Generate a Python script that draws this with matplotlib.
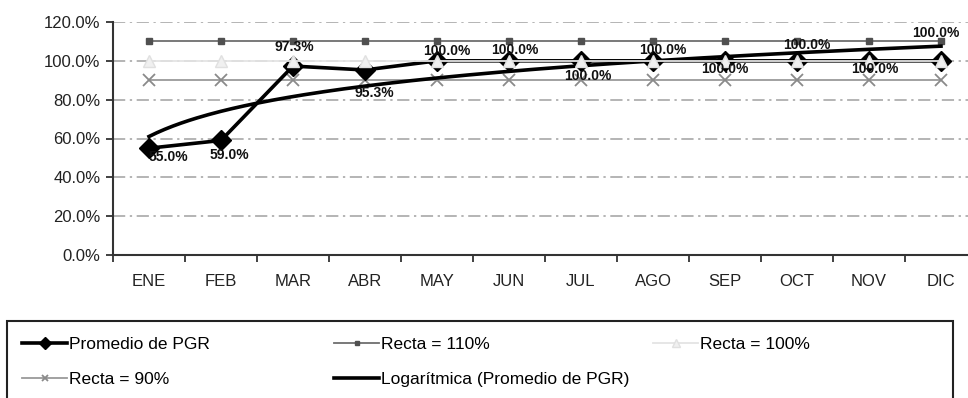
import numpy as np
import matplotlib.pyplot as plt
from matplotlib.patches import Rectangle
from matplotlib.ticker import FuncFormatter

plt.rcParams['font.family'] = ['Liberation Sans', 'DejaVu Sans']

months = ["ENE", "FEB", "MAR", "ABR", "MAY", "JUN", "JUL", "AGO", "SEP", "OCT", "NOV", "DIC"]
promedio = [55.0, 59.0, 97.3, 95.3, 100.0, 100.0, 100.0, 100.0, 100.0, 100.0, 100.0, 100.0]
recta_110 = [110.0] * 12
recta_100 = [100.0] * 12
recta_90 = [90.0] * 12
y_ticks = [0, 20, 40, 60, 80, 100, 120]

# data label offsets from each point, in pixels (x right, y up)
label_offsets = [(19, -9), (8, -15), (1, 19), (9, -23), (10, 10), (6, 11),
                 (7, -15), (10, 11), (0, -8), (10, 16), (6, -8), (-5, 28)]

x = np.arange(len(months))

# logarithmic trend line fitted like the spreadsheet does: y = a*ln(x) + b
a, b = np.polyfit(np.log(x + 1), promedio, 1)
xt = np.linspace(1, len(months), 200)
trend = a * np.log(xt) + b

fig = plt.figure(figsize=(9.68, 3.98), dpi=100)
ax = fig.add_axes([113 / 968, 1 - 255 / 398, 864 / 968, 233 / 398])

ax.set_xlim(-0.5, len(months) - 0.5)
ax.set_ylim(0, 120)
ax.set_yticks(y_ticks)
ax.yaxis.set_major_formatter(FuncFormatter(lambda v, _: f"{v:.1f}%"))
ax.set_xticks(x)
ax.set_xticklabels(months)
ax.set_xticks(np.arange(-0.5, len(months), 1), minor=True)
ax.tick_params(axis="x", which="major", length=0, pad=14, labelsize=12, colors="#222222")
ax.tick_params(axis="x", which="minor", length=5, width=1.3, direction="out", color="#333333")
ax.tick_params(axis="y", length=5, width=1.3, direction="out", labelsize=12,
               color="#333333", labelcolor="#222222", pad=4)

for s in ["top", "right"]:
    ax.spines[s].set_visible(False)
for s in ["left", "bottom"]:
    ax.spines[s].set_linewidth(1.5)
    ax.spines[s].set_color("#333333")

for t in y_ticks[1:]:
    ax.axhline(t, color="#a0a0a0", lw=1.1, ls=(0, (8, 3, 1.5, 3)), zorder=0)

h_prom, = ax.plot(x, promedio, color="black", lw=2.6, marker="D", ms=10,
                  mfc="black", mec="black", zorder=4, label="Promedio de PGR")
h_110, = ax.plot(x, recta_110, color="#6e6e6e", lw=1.3, marker="s", ms=5,
                 mfc="#505050", mec="#505050", zorder=3, label="Recta = 110%")
h_100, = ax.plot(x, recta_100, color="#e4e4e4", lw=1.3, marker="^", ms=9,
                 mfc="#f0f0f0", mec="#e0e0e0", zorder=5, label="Recta = 100%")
h_90, = ax.plot(x, recta_90, color="#9a9a9a", lw=1.3, marker="x", ms=8, mew=1.3,
                mec="#8a8a8a", zorder=3, label="Recta = 90%")
h_log, = ax.plot(xt - 1, trend, color="black", lw=2.6, zorder=4,
                 label="Logarítmica (Promedio de PGR)")

for xi, v, (dx, dy) in zip(x, promedio, label_offsets):
    ax.annotate(f"{v:.1f}%", (xi, v), xytext=(dx * 0.72, dy * 0.72),
                textcoords="offset points", ha="center", va="center",
                fontsize=10, fontweight="bold", color="#111111", zorder=6)

# legend box, cut off at the lower edge of the figure
fig.patches.append(Rectangle((7 / 968, -0.05), 946 / 968, 1 - 321 / 398 + 0.05,
                             transform=fig.transFigure, fill=False,
                             edgecolor="#222222", lw=1.5))

leg_kw = dict(frameon=False, fontsize=12.5, handlelength=2.6, handletextpad=0.1,
              labelspacing=1.15, borderpad=0, borderaxespad=0, loc="upper left",
              markerscale=0.6)
fig.legend([h_prom, h_90], ["Promedio de PGR", "Recta = 90%"],
           bbox_to_anchor=(22 / 968, 1 - 337 / 398), **leg_kw)
fig.legend([h_110, h_log], ["Recta = 110%", "Logarítmica (Promedio de PGR)"],
           bbox_to_anchor=(334 / 968, 1 - 337 / 398), **leg_kw)
fig.legend([h_100], ["Recta = 100%"],
           bbox_to_anchor=(653 / 968, 1 - 337 / 398), **leg_kw)

fig.savefig("out.png", dpi=100)
